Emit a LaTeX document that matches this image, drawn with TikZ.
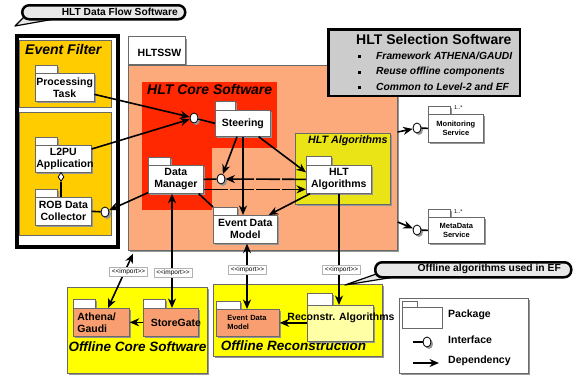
\documentclass[tikz,border=0pt]{standalone}
\usepackage{fontspec}
\setmainfont{Liberation Sans}
\usetikzlibrary{arrows.meta,shapes.geometric,shadows,calc}
\definecolor{salmon}{RGB}{252,170,124}
\definecolor{corered}{RGB}{255,40,0}
\definecolor{algyel}{RGB}{234,228,22}
\definecolor{efyel}{RGB}{255,204,0}
\definecolor{offyel}{RGB}{255,255,0}
\definecolor{offpkg}{RGB}{249,158,112}
\definecolor{recoyel}{RGB}{255,255,165}
\definecolor{selgray}{RGB}{204,204,204}
\definecolor{edgec}{RGB}{105,105,105}
\definecolor{shadowc}{RGB}{150,150,150}
\definecolor{callc}{RGB}{232,232,232}
\newcommand\fpkg{\fontsize{10.5}{12}\selectfont\bfseries}
\newcommand\fttl{\fontsize{14}{16}\selectfont\bfseries\itshape}
\newcommand\fsvc{\fontsize{7.5}{9}\selectfont\bfseries}
\newcommand\fimp{\fontsize{6.5}{7}\selectfont}
\newcommand\fbul{\fontsize{10.3}{12}\selectfont\bfseries\itshape}
\newcommand\pkgtab[5]{\draw[pkgline,shad,fill=#5] (#1,#2) rectangle ++(#3,-#4);}
\tikzset{
  shad/.style={drop shadow={shadow xshift=2pt,shadow yshift=-2pt,fill=shadowc,opacity=1}},
  pkgline/.style={draw=edgec,line width=0.7pt},
  pkgbody/.style={pkgline,shad,anchor=north west,inner sep=1pt,align=center,font=\fpkg},
  frame/.style={draw=edgec,line width=0.7pt,anchor=north west,inner sep=0pt},
  dep/.style={line width=1.6pt,-{Stealth[length=9.5pt,width=8pt,inset=3pt]}},
  dep2/.style={line width=1.6pt,{Stealth[length=9.5pt,width=8pt,inset=3pt]}-{Stealth[length=9.5pt,width=8pt,inset=3pt]}},
  link/.style={line width=1.6pt},
  iface/.style={ellipse,draw=black,line width=0.8pt,fill=white,minimum width=8pt,minimum height=10pt,inner sep=0pt,shad},
  imp/.style={draw=gray!60,fill=white,line width=0.5pt,inner xsep=2.5pt,inner ysep=1.5pt,font=\fimp},
  gapline/.style={dash pattern=on 24pt off 2pt},
  ttl/.style={anchor=west,font=\fttl,inner sep=0pt},
}
\begin{document}
\begin{tikzpicture}[x=1pt,y=-1pt]
\useasboundingbox (0,0) rectangle (579,380);

% ---------- Data flow frame ----------
\node[draw=black,line width=3.5pt,minimum width=101pt,minimum height=211pt,anchor=north west,inner sep=0pt] (dfs) at (15,34) {};
\node[frame,fill=efyel,minimum width=92pt,minimum height=67pt] (efbox) at (19,40) {};
\node[frame,fill=efyel,minimum width=92pt,minimum height=123pt] (l2box) at (19,112) {};
\node[ttl] (eft) at (25,49) {Event Filter};

% callout 1
\filldraw[fill=callc,draw=black,line width=1.2pt,line join=round] (26,15) -- (15,26) -- (60,18) -- cycle;
\node[draw=black,line width=2.5pt,fill=callc,rounded corners=7pt,minimum width=163pt,minimum height=14pt,anchor=north west,inner sep=0pt] (cal1) at (21,4) {};
\node[anchor=east,font=\fontsize{10.2}{12}\selectfont\bfseries,inner sep=0pt] (cal1t) at (178,11.5) {HLT Data Flow Software};

% ---------- HLTSSW ----------
\node[pkgline,shad,fill=white,minimum width=57pt,minimum height=28pt,anchor=south west,inner sep=0pt] (sswtab) at (128,65) {};
\node[frame,shad,fill=salmon,minimum width=269pt,minimum height=185pt] (ssw) at (128,65) {};
\node[font=\fpkg] (sswlbl) at (159.5,53) {HLTSSW};

\fill[corered] (142,82) rectangle (277,210);
\fill[salmon] (212,148) rectangle (277,210);
\node[ttl] (coret) at (147,89.5) {HLT Core Software};

\node[frame,shad,fill=algyel,minimum width=95pt,minimum height=71pt] (algbox) at (295,133) {};
\node[anchor=west,font=\fontsize{10.7}{12}\selectfont\bfseries\itshape,inner sep=0pt] (algt) at (308,141) {HLT Algorithms};

% ---------- packages ----------
\pkgtab{35}{73}{22}{8}{white}
\node[pkgbody,fill=white,minimum width=56pt,minimum height=28pt] (proc) at (35,73) {Processing\\Task};
\pkgtab{35}{145}{22}{8}{white}
\node[pkgbody,fill=white,minimum width=56pt,minimum height=27pt,text width=54pt] (l2pu) at (35,145) {L2PU\\Application};
\pkgtab{35}{197}{22}{8}{white}
\node[pkgbody,fill=white,minimum width=56pt,minimum height=28pt] (rob) at (35,197) {ROB Data\\Collector};

\pkgtab{215}{110}{20}{9}{white}
\node[pkgbody,fill=white,minimum width=55pt,minimum height=26pt] (steer) at (215,110) {Steering};
\pkgtab{148}{165}{22}{8}{white}
\node[pkgbody,fill=white,minimum width=55pt,minimum height=28pt] (dm) at (148,165) {Data\\Manager};
\pkgtab{213}{215}{24}{8}{white}
\node[pkgbody,fill=white,minimum width=64pt,minimum height=28pt] (edm) at (213,215) {Event Data\\Model};
\pkgtab{306}{165}{25}{9}{white}
\node[pkgbody,fill=white,minimum width=65pt,minimum height=28pt] (alg) at (306,165) {HLT\\Algorithms};

% services
\pkgtab{428}{114}{22}{8}{white}
\node[pkgbody,fill=white,minimum width=55pt,minimum height=28pt,font=\fsvc] (mon) at (428,114) {Monitoring\\Service};
\node[anchor=west,font=\fontsize{5.5}{6}\selectfont,inner sep=0pt] (mon1) at ($(mon.north west)+(26,-6)$) {1..*};
\pkgtab{428}{217}{22}{8}{white}
\node[pkgbody,fill=white,minimum width=56pt,minimum height=26pt,font=\fsvc] (meta) at (428,217) {MetaData\\Service};
\node[anchor=west,font=\fontsize{5.5}{6}\selectfont,inner sep=0pt] (meta1) at ($(meta.north west)+(26,-5)$) {1..*};

% interfaces
\node[iface] (i1) at (194,118) {};
\node[iface] (i2) at (221,179) {};
\node[iface] (i3) at (105,212) {};
\node[iface] (im) at (417,128) {};
\node[iface] (imd) at (417,230) {};
\node[diamond,draw=black,fill=white,line width=0.8pt,minimum width=6pt,minimum height=9pt,inner sep=0pt,anchor=north] (dia) at (61,172) {};

% ---------- HLT Selection Software ----------
\node[draw=black,line width=1.5pt,fill=selgray,minimum width=191pt,minimum height=66pt,anchor=north west,inner sep=0pt] (sel) at (328,29) {};
\begin{scope}
\clip (sel.south west) rectangle (sel.north east);
\node[anchor=west,font=\fontsize{14}{16}\selectfont\bfseries,inner sep=0pt] (selt) at (356,39) {HLT Selection Software};
\node[fill=black,minimum size=3pt,inner sep=0pt] (b1) at (359,56) {};
\node[fill=black,minimum size=3pt,inner sep=0pt] (b2) at (359,72) {};
\node[fill=black,minimum size=3pt,inner sep=0pt] (b3) at (359,87) {};
\node[anchor=west,font=\fbul,inner sep=0pt] (s1) at (376,56) {Framework ATHENA/GAUDI};
\node[anchor=west,font=\fbul,inner sep=0pt] (s2) at (376,72) {Reuse offline components};
\node[anchor=west,font=\fbul,inner sep=0pt] (s3) at (376,87) {Common to Level-2 and EF};
\end{scope}
\draw[black,line width=1.5pt] (sel.south west) rectangle (sel.north east);

% ---------- Offline ----------
\node[frame,shad,fill=offyel,minimum width=140pt,minimum height=86pt] (ocs) at (67,287) {};
\node[font=\fontsize{13.5}{15}\selectfont\bfseries\itshape,inner sep=0pt] (ocst) at (137.5,347) {Offline Core Software};
\node[frame,shad,fill=offyel,minimum width=169pt,minimum height=72pt] (orec) at (213,284) {};
\node[font=\fontsize{13.5}{15}\selectfont\bfseries\itshape,inner sep=0pt] (orect) at (293.5,346) {Offline Reconstruction};

\pkgtab{73}{308}{22}{9}{white}
\node[pkgbody,fill=offpkg,minimum height=28pt,text width=48pt,inner xsep=4pt,align=left] (ath) at (73,308) {Athena/\\Gaudi};
\pkgtab{143}{308}{22}{9}{white}
\node[pkgbody,fill=offpkg,minimum width=55pt,minimum height=28pt,label={[font=\fpkg,xshift=5pt,yshift=-1pt]center:StoreGate}] (sg) at (143,308) {};
\pkgtab{216}{309}{24}{8}{white}
\node[pkgbody,fill=offpkg,minimum height=27pt,text width=41pt,inner xsep=11pt,align=left,font=\fontsize{7.5}{9}\selectfont\bfseries] (oedm) at (216,309) {Event Data\\Model};
\pkgtab{307}{305}{25}{12}{white}
\node[pkgbody,fill=recoyel,minimum width=66pt,minimum height=36pt] (reco) at (307,305) {};

% ---------- connectors ----------
\draw[dep] ($(proc.east)+(0,7)$) -- (i1);
\draw[dep] ($(l2pu.north east)+(0,4)$) -- (i1);
\draw[link] (i1) -- (steer.west);
\draw[dep] ($(steer.south west)+(22,0)$) -- (i2);
\coordinate (sx) at ($(steer.south west)+(28,0)$);
\draw[dep] (sx) -- (sx |- edm.north);
\draw[dep] ($(steer.south east)+(-12,0)$) -- ($(alg.west)+(0,-7)$);
\draw[link] (dm.east) -- (i2);
\draw[dep,gapline] (alg.west) -- (i2);
\draw[dep,gapline] ($(dm.east)+(0,10)$) -- ($(alg.west)+(0,10)$);
\draw[link] ($(dm.south east)+(-5,0)$) -- ($(edm.north west)+(0,-8)$);
\draw[dep] ($(alg.south west)+(4,0)$) -- ($(edm.north east)+(-9,0)$);
\draw[dep] ($(dm.south west)+(0,-1)$) -- (i3);
\draw[link] (rob.east) -- (i3);
\draw[link] (dia.south) -- (dia.south |- rob.north);

\draw[dep] ($(ssw.north east)+(0,67)$) -- (im);
\draw[link] (im) -- (mon.west);
\draw[dep] ($(ssw.north east)+(0,157)$) -- (imd);
\draw[link] (imd) -- (meta.west);

\draw[dep2] ($(ath.north west)+(35,0)$) -- ($(ssw.south west)+(5,3)$);
\coordinate (dsx) at ($(sg.north west)+(29,0)$);
\draw[dep2] (dsx |- dm.south) -- (dsx);
\coordinate (esx) at ($(oedm.north west)+(31,0)$);
\draw[dep2] (esx |- edm.south) -- (esx);
\coordinate (asx) at ($(reco.north west)+(32,0)$);
\draw[dep] (asx |- alg.south) -- (asx);
\draw[dep] (sg.west) -- (ath.east);
\draw[dep] (reco.west |- oedm.east) -- (oedm.east);
\node[font=\fpkg,inner sep=0pt] (recot) at (341,318) {Reconstr. Algorithms};

% import labels
\node[imp] (imp1) at (128.5,271.5) {<\kern0pt<import>\kern0pt>};
\node[imp] (imp2) at (173,272.5) {<\kern0pt<import>\kern0pt>};
\node[imp] (imp3) at (247.5,270) {<\kern0pt<import>\kern0pt>};
\node[imp] (imp4) at (341.5,269.5) {<\kern0pt<import>\kern0pt>};

% callout 2
\filldraw[fill=callc,draw=black,line width=1.2pt,line join=round] (382,272) -- (345,285) -- (407,275) -- cycle;
\node[draw=black,line width=2.5pt,fill=callc,rounded corners=7pt,minimum width=196pt,minimum height=15pt,anchor=north west,inner sep=0pt] (cal2) at (374,261) {};
\node[anchor=east,font=\fontsize{10.3}{12}\selectfont\bfseries,inner sep=0pt] (cal2t) at (561,268.5) {Offline algorithms used in EF};

% ---------- legend ----------
\node[frame,shad,fill=white,minimum width=129pt,minimum height=75pt] (leg) at (399,298) {};
\draw[pkgline,fill=white] (402,307) rectangle ++(15,-6);
\node[pkgline,fill=white,anchor=north west,minimum width=40pt,minimum height=21pt,inner sep=0pt] (lpkg) at (402,307) {};
\node[anchor=west,font=\fpkg,inner sep=0pt] (lpt) at (448,315) {Package};
\node[iface] (li) at (427,342) {};
\coordinate (lis) at (413,342);
\draw[link] (lis) -- (li);
\node[anchor=west,font=\fpkg,inner sep=0pt] (lit) at (448,340) {Interface};
\coordinate (lda) at (413,363);
\coordinate (ldb) at (439,363);
\draw[dep] (lda) -- (ldb);
\node[anchor=west,font=\fpkg,inner sep=0pt] (ldt) at (448,361) {Dependency};
\end{tikzpicture}
\end{document}
